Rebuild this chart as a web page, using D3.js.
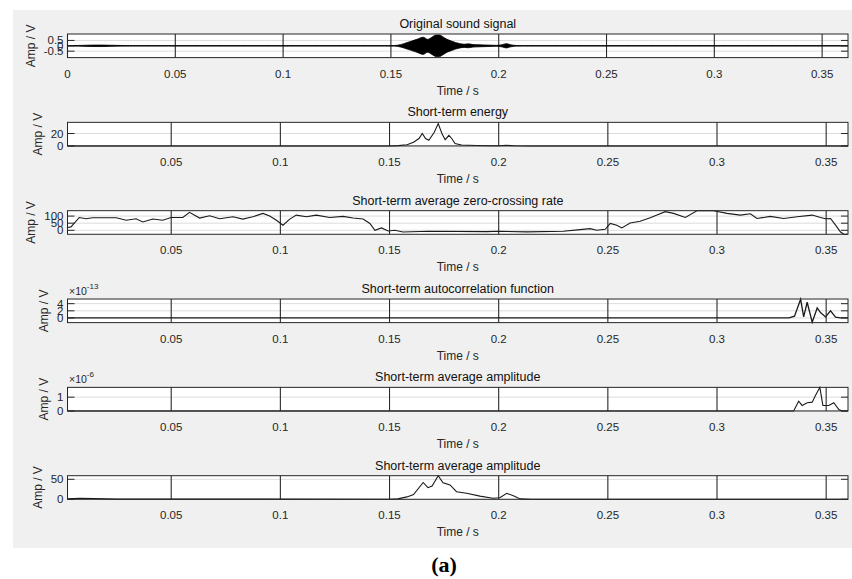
<!DOCTYPE html>
<html>
<head>
<meta charset="utf-8">
<script src="https://cdn.jsdelivr.net/npm/d3@7"></script>
<style>
  body { margin: 0; background: #fff; }
  text { font-family: Arial, "Liberation Sans", Helvetica, sans-serif; }
</style>
</head>
<body>
<div id="chart"></div>
<script>
// ---- data ----
// original signal: amplitude envelope (drawn +/-)
var sigT   = [0, 0.005, 0.01, 0.015, 0.02, 0.025, 0.03, 0.15, 0.153, 0.156, 0.159, 0.162, 0.165, 0.167, 0.169, 0.171, 0.1725, 0.174, 0.176, 0.178, 0.18, 0.182, 0.184, 0.186, 0.188, 0.19, 0.193, 0.196, 0.199, 0.2015, 0.2035, 0.2055, 0.208, 0.212, 0.362];
var sigEnv = [0.01, 0.03, 0.06, 0.07, 0.05, 0.03, 0.01, 0.01, 0.05, 0.2, 0.4, 0.6, 0.8, 0.6, 0.8, 1.0, 1.0, 0.85, 0.6, 0.45, 0.3, 0.2, 0.15, 0.18, 0.12, 0.1, 0.08, 0.06, 0.04, 0.1, 0.2, 0.1, 0.03, 0.01, 0.01];

var energyT = [0.0025, 0.15, 0.154, 0.158, 0.161, 0.1635, 0.165, 0.1665, 0.168, 0.1705, 0.1723, 0.174, 0.1755, 0.1772, 0.1785, 0.18, 0.183, 0.19, 0.196, 0.2, 0.2035, 0.207, 0.215, 0.36];
var energyV = [0, 0, 0.5, 2, 6, 12, 20, 12, 9, 22, 36, 20, 10, 17, 12, 4, 1.5, 0.8, 0.3, 0.3, 1, 0.3, 0, 0];

var zcrT = [0.0026, 0.0041, 0.0079, 0.011, 0.014, 0.0248, 0.0294, 0.0339, 0.037, 0.0416, 0.0461, 0.05, 0.0553, 0.0584, 0.063, 0.0676, 0.0722, 0.0783, 0.0828, 0.0874, 0.092, 0.0951, 0.0982, 0.1012, 0.1043, 0.1073, 0.1119, 0.1165, 0.1226, 0.1287, 0.1333, 0.1379, 0.141, 0.1433, 0.1463, 0.1494, 0.1524, 0.1562, 0.1677, 0.1945, 0.2001, 0.2128, 0.2296, 0.2373, 0.2419, 0.2449, 0.2488, 0.2511, 0.2541, 0.2564, 0.2602, 0.2648, 0.2694, 0.2725, 0.2763, 0.2801, 0.2855, 0.2908, 0.2984, 0.3046, 0.3107, 0.3153, 0.3183, 0.3244, 0.3305, 0.3367, 0.3436, 0.3474, 0.3497, 0.352, 0.3543, 0.3566, 0.3581, 0.36];
var zcrV = [20, 24, 90, 81, 88, 88, 71, 81, 59, 79, 71, 90, 90, 126, 86, 102, 81, 95, 79, 95, 119, 100, 71, 36, 79, 107, 95, 107, 90, 98, 86, 79, 48, 0, 17, -5, 0, -12, -7, -9, -7, -11, -7, 5, 12, 0, 7, 48, 36, 17, 52, 64, 88, 107, 131, 119, 90, 138, 138, 119, 107, 116, 83, 98, 83, 95, 107, 90, 81, 83, 36, -12, -28, -28];

// autocorrelation, in units of 1e-13
var acfT = [0.0025, 0.333, 0.3355, 0.3383, 0.3397, 0.3413, 0.3436, 0.3459, 0.3474, 0.3497, 0.352, 0.3543, 0.3566, 0.36];
var acfV = [0, 0, 0.5, 5.2, 0.3, 4.4, -1.2, 2.8, 1.5, 0.3, 2.0, 0.2, 0, 0];

// average amplitude, in units of 1e-6
var amp1T = [0.0025, 0.3351, 0.3374, 0.339, 0.3413, 0.3436, 0.3451, 0.3471, 0.3485, 0.3512, 0.3535, 0.3558, 0.3573, 0.36];
var amp1V = [0, 0, 0.71, 0.4, 0.6, 0.64, 1.12, 1.71, 0.4, 0.4, 0.6, 0.1, 0, 0];

var amp2T = [0.0025, 0.008, 0.015, 0.025, 0.15, 0.1538, 0.158, 0.161, 0.1654, 0.1676, 0.1695, 0.1723, 0.1745, 0.1777, 0.1807, 0.1853, 0.1914, 0.1974, 0.2005, 0.2037, 0.207, 0.2098, 0.215, 0.36];
var amp2V = [1, 2.5, 2, 0.5, 0.3, 1, 6, 12, 42, 29, 33, 59, 41, 36, 19, 15, 8, 2.5, 4, 15, 8, 1, 0.3, 0];

// ---- panel settings ----
var titles = ["Original sound signal", "Short-term energy", "Short-term average zero-crossing rate",
              "Short-term autocorrelation function", "Short-term average amplitude", "Short-term average amplitude"];
var xMin = [0, 0.0025, 0.0025, 0.0025, 0.0025, 0.0025];
var xMax = [0.362, 0.36, 0.36, 0.36, 0.36, 0.36];
var xTicksFirst = [0, 0.05, 0.1, 0.15, 0.2, 0.25, 0.3, 0.35];
var xTicksRest = [0.05, 0.1, 0.15, 0.2, 0.25, 0.3, 0.35];
var yLo = [-1.1, 0, -28, -1.3, 0, 0];
var yHi = [1.1, 38, 138, 5.3, 1.71, 59];
var yTicks = [[-0.5, 0, 0.5], [0, 20], [0, 50, 100], [0, 2, 4], [0, 1], [0, 50]];
var yExp = [null, null, null, "-13", "-6", null];
var seriesT = [sigT, energyT, zcrT, acfT, amp1T, amp2T];
var seriesV = [sigEnv, energyV, zcrV, acfV, amp1V, amp2V];

var width = 852, height = 579;
var left = 67.5, right = 848;
var top0 = 34, step = 88.34, boxH = 23.6;
var ink = "#262626";

var svg = d3.select("#chart").append("svg")
    .attr("width", width).attr("height", height);

// grey figure background
svg.append("rect").attr("x", 13).attr("y", 10).attr("width", width - 13).attr("height", 538)
    .attr("fill", "#f0f0f0");

function fmt(v) { return String(v); }

titles.forEach(function (title, i) {
    var yTop = top0 + i * step;
    var x = d3.scaleLinear().domain([xMin[i], xMax[i]]).range([left, right]);
    var y = d3.scaleLinear().domain([yLo[i], yHi[i]]).range([yTop + boxH, yTop]);
    var g = svg.append("g");
    var xt = i == 0 ? xTicksFirst : xTicksRest;

    g.append("rect").attr("x", left).attr("y", yTop).attr("width", right - left).attr("height", boxH)
        .attr("fill", "#fff");

    // horizontal grid
    yTicks[i].forEach(function (v) {
        g.append("line").attr("x1", left).attr("x2", right).attr("y1", y(v)).attr("y2", y(v))
            .style("stroke", "#dcdcdc").style("stroke-width", 1);
    });
    // vertical grid (dark in the reference)
    xt.forEach(function (v) {
        g.append("line").attr("x1", x(v)).attr("x2", x(v)).attr("y1", yTop).attr("y2", yTop + boxH)
            .style("stroke", "#2a2a2a").style("stroke-width", 1.1);
    });

    // data
    if (i == 0) {
        var env = d3.range(sigT.length).map(function (k) { return { t: sigT[k], a: sigEnv[k] }; });
        g.append("line").attr("x1", left).attr("x2", right).attr("y1", y(0)).attr("y2", y(0))
            .style("stroke", "#555").style("stroke-width", 1).style("stroke-dasharray", "2,1");
        g.append("path").datum(env)
            .attr("d", d3.area().curve(d3.curveMonotoneX)
                .x(function (d) { return x(d.t); })
                .y0(function (d) { return y(-d.a); })
                .y1(function (d) { return y(d.a); }))
            .style("fill", "#000").style("stroke", "#000").style("stroke-width", 0.8);
    } else {
        var pts = d3.range(seriesT[i].length).map(function (k) { return { t: seriesT[i][k], v: seriesV[i][k] }; });
        g.append("path").datum(pts)
            .attr("d", d3.line()
                .x(function (d) { return x(d.t); })
                .y(function (d) { return y(d.v); }))
            .style("stroke", "#1a1a1a").style("stroke-width", i == 3 ? 1.3 : 1.1)
            .style("fill", "none");
    }

    // box
    g.append("rect").attr("x", left).attr("y", yTop).attr("width", right - left).attr("height", boxH)
        .attr("fill", "none").style("stroke", ink).style("stroke-width", 1);

    // y ticks inward on both sides
    yTicks[i].forEach(function (v) {
        g.append("line").attr("x1", left).attr("x2", left + 7).attr("y1", y(v)).attr("y2", y(v))
            .style("stroke", ink);
        g.append("line").attr("x1", right - 7).attr("x2", right).attr("y1", y(v)).attr("y2", y(v))
            .style("stroke", ink);
    });

    // y tick labels (they overlap in the original too)
    var yl = g.append("g");
    yTicks[i].forEach(function (v) {
        yl.append("text").attr("x", left - 4).attr("y", y(v)).attr("dy", "0.35em")
            .attr("text-anchor", "end").style("font-size", "11.5px").style("fill", ink)
            .text(fmt(v));
    });
    var bb = yl.node().getBBox();

    g.append("text")
        .attr("transform", "translate(" + (bb.x - 9) + "," + (yTop + boxH / 2) + ") rotate(-90)")
        .attr("text-anchor", "middle").style("font-size", "12px").style("fill", ink)
        .text("Amp / V");

    // exponent marker
    if (yExp[i]) {
        var e = g.append("text").attr("x", 69).attr("y", yTop - 4)
            .style("font-size", "10.5px").style("fill", ink);
        e.append("tspan").text("\u00d710");
        e.append("tspan").attr("dy", -6).style("font-size", "8px").text(yExp[i]);
    }

    // x tick labels
    xt.forEach(function (v) {
        g.append("text").attr("x", x(v)).attr("y", yTop + boxH + 20)
            .attr("text-anchor", "middle").style("font-size", "11.5px").style("fill", ink)
            .text(fmt(v));
    });

    g.append("text").attr("x", (left + right) / 2).attr("y", yTop + boxH + 37)
        .attr("text-anchor", "middle").style("font-size", "12px").style("fill", ink)
        .text("Time / s");

    g.append("text").attr("x", (left + right) / 2).attr("y", yTop - 6)
        .attr("text-anchor", "middle").style("font-size", "12.5px").style("fill", "#111")
        .text(title);
});

svg.append("text").attr("x", 444).attr("y", 572).attr("text-anchor", "middle")
    .style("font-family", "'Liberation Serif', 'DejaVu Serif', serif")
    .style("font-weight", "bold").style("font-size", "22px").style("fill", "#000")
    .text("(a)");
</script>
</body>
</html>
